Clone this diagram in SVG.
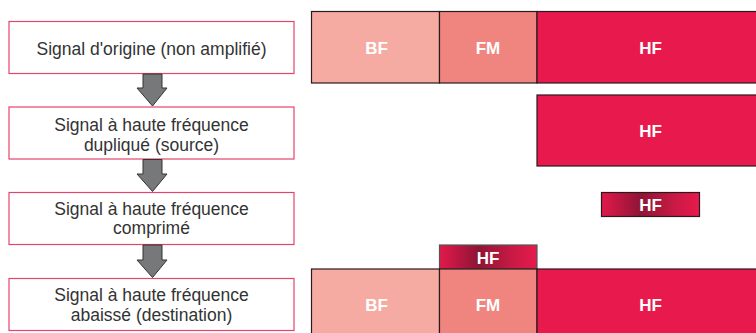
<svg xmlns="http://www.w3.org/2000/svg" width="756" height="333" viewBox="0 0 756 333">
  <defs>
    <linearGradient id="hfFade" x1="0" y1="0" x2="1" y2="0">
      <stop offset="0" stop-color="#e2194b"/>
      <stop offset="0.4" stop-color="#8e1535"/>
      <stop offset="0.75" stop-color="#c91a45"/>
      <stop offset="1" stop-color="#e71a4d"/>
    </linearGradient>
    <style>
      .step rect { fill: #ffffff; stroke: #e5456c; stroke-width: 1.2; }
      .step text { font-family: "Liberation Sans", Arial, sans-serif; font-size: 17.5px; fill: #333333; text-anchor: middle; }
      .band { stroke: #2a1a1e; stroke-width: 1.2; }
      .bf { fill: #f6aba2; }
      .fm { fill: #f08580; }
      .hf { fill: #e8194c; }
      .fade { fill: url(#hfFade); }
      .lbl { font-family: "Liberation Sans", Arial, sans-serif; font-weight: bold; font-size: 17px; fill: #ffffff; text-anchor: middle; }
      .flow { fill: #77787a; stroke: #333333; stroke-width: 1; stroke-linejoin: miter; }
    </style>
  </defs>
  <rect width="756" height="333" fill="#ffffff"/>

  <!-- processing steps -->
  <g id="step-origin" class="step">
    <rect x="9" y="21.5" width="285" height="52"/>
    <text x="151.5" y="54.5">Signal d'origine (non amplifié)</text>
  </g>
  <g id="step-source" class="step">
    <rect x="9" y="107" width="285" height="52"/>
    <text x="151.5" y="130.5">Signal à haute fréquence</text>
    <text x="151.5" y="151">dupliqué (source)</text>
  </g>
  <g id="step-compressed" class="step">
    <rect x="9" y="192.5" width="285" height="52"/>
    <text x="151.5" y="214.5">Signal à haute fréquence</text>
    <text x="151.5" y="234">comprimé</text>
  </g>
  <g id="step-destination" class="step">
    <rect x="9" y="278.5" width="285" height="52"/>
    <text x="151.5" y="300.5">Signal à haute fréquence</text>
    <text x="151.5" y="320.5">abaissé (destination)</text>
  </g>

  <!-- flow arrows between steps -->
  <g id="connectors">
    <path class="flow" d="M143,74 H162 V88 H167 L152.5,106 L137,88 H143 Z"/>
    <path class="flow" d="M143,159.5 H162 V174 H167 L152.5,191.5 L137,174 H143 Z"/>
    <path class="flow" d="M143,245 H162 V260 H167 L152.5,277.5 L137,260 H143 Z"/>
  </g>

  <!-- spectrum: original signal -->
  <g id="spectrum-origin">
    <rect class="band bf" x="311.5" y="11.5" width="128" height="71.5"/>
    <rect class="band fm" x="439.5" y="11.5" width="97.5" height="71.5"/>
    <rect class="band hf" x="537" y="11.5" width="222" height="71.5"/>
    <text class="lbl" x="376.5" y="54">BF</text>
    <text class="lbl" x="488" y="54">FM</text>
    <text class="lbl" x="650.5" y="54">HF</text>
  </g>

  <!-- spectrum: duplicated high frequency -->
  <g id="spectrum-source">
    <rect class="band hf" x="537" y="95" width="222" height="71"/>
    <text class="lbl" x="650.5" y="137">HF</text>
  </g>

  <!-- spectrum: compressed high frequency -->
  <g id="spectrum-compressed">
    <rect class="band fade" x="601.5" y="192.5" width="98" height="24"/>
    <text class="lbl" x="650.5" y="210.5">HF</text>
  </g>

  <!-- spectrum: lowered high frequency on top of original -->
  <g id="spectrum-destination">
    <rect class="band fade" x="439.5" y="245" width="97.5" height="24" style="stroke:#555"/>
    <text class="lbl" x="488" y="264">HF</text>
    <rect class="band bf" x="311.5" y="269" width="128" height="70"/>
    <rect class="band fm" x="439.5" y="269" width="97.5" height="70"/>
    <rect class="band hf" x="537" y="269" width="222" height="70"/>
    <text class="lbl" x="376.5" y="310.5">BF</text>
    <text class="lbl" x="488" y="310.5">FM</text>
    <text class="lbl" x="650.5" y="310.5">HF</text>
  </g>
</svg>
